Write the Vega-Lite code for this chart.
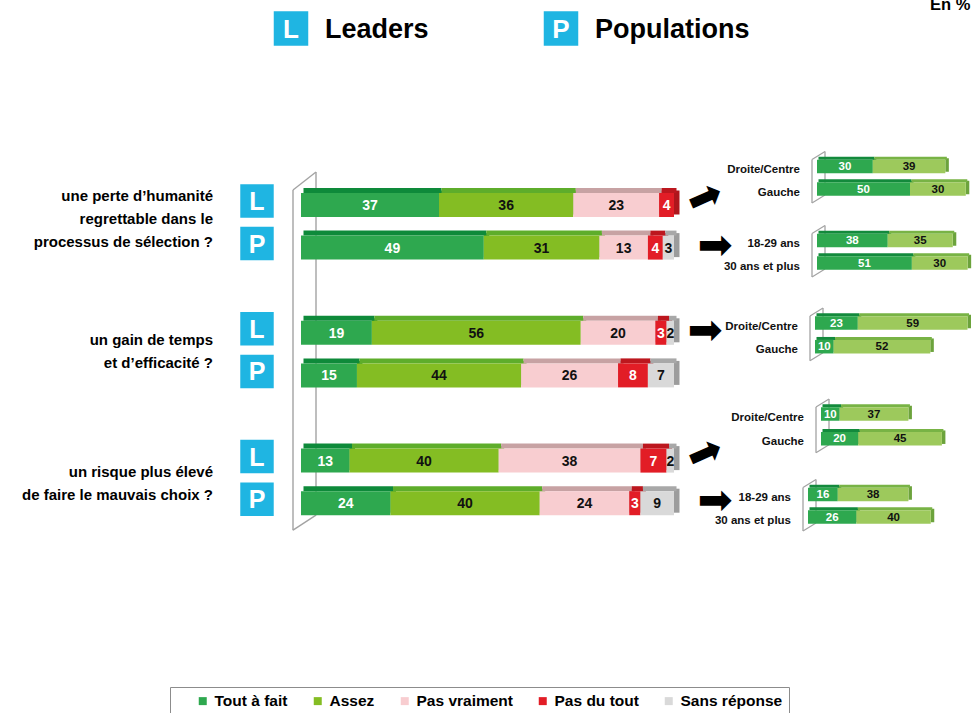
{
"$schema": "https://vega.github.io/schema/vega-lite/v6.json",
"width": 974, "height": 713, "padding": 0, "autosize": {"type": "none"},
"background": "white",
"config": {"view": {"stroke": null}, "axis": {"disable": true, "domain": false, "ticks": false, "labels": false, "grid": false, "title": null}},
"resolve": {"scale": {"x": "independent", "y": "independent", "color": "independent"}},
"layer": [
{
 "data": {"values": [{"badge": "L", "label": "Leaders"}, {"badge": "P", "label": "Populations"}]},
 "encoding": {
  "x": {"field": "label", "type": "nominal", "scale": {"type": "point", "domain": ["Leaders", "Populations"], "range": [291, 561], "padding": 0}},
  "y": {"datum": "entête", "type": "nominal", "scale": {"type": "point", "domain": ["entête"], "range": [0, 57], "padding": 0}}
 },
 "layer": [
  {"mark": {"type": "point", "shape": "square", "size": 1190, "filled": true, "color": "#1FB5E2", "opacity": 1, "strokeWidth": 0}},
  {"mark": {"type": "text", "color": "white", "fontSize": 26, "fontWeight": "bold", "font": "Liberation Sans", "baseline": "middle", "dy": 1}, "encoding": {"text": {"field": "badge"}}},
  {"mark": {"type": "text", "color": "#000", "fontSize": 27, "fontWeight": "bold", "font": "Liberation Sans", "align": "left", "baseline": "middle", "xOffset": 34, "dy": 1}, "encoding": {"text": {"field": "label"}}},
  {"data": {"values": [{"t": "En %"}]}, "mark": {"type": "text", "color": "#000", "fontSize": 16.5, "fontWeight": "bold", "font": "Liberation Sans", "align": "left", "baseline": "alphabetic", "xOffset": 369, "yOffset": -19}, "encoding": {"x": {"datum": "Populations", "type": "nominal", "scale": {"type": "point", "domain": ["Leaders", "Populations"], "range": [291, 561], "padding": 0}}, "text": {"field": "t"}}}
 ]
},
{
 "data": {"values": [
  {"q": "Q1", "texte": "une perte d’humanité\nregrettable dans le\nprocessus de sélection ?"},
  {"q": "Q2", "texte": "un gain de temps\net d’efficacité ?"},
  {"q": "Q3", "texte": "un risque plus élevé\nde faire le mauvais choix ?"}
 ]},
 "encoding": {
  "x": {"datum": 0, "type": "quantitative", "scale": {"domain": [0, 100], "range": [301, 674], "nice": false, "zero": false}},
  "y": {"field": "q", "type": "nominal", "scale": {"type": "band", "domain": ["Q1", "Q2", "Q3"], "range": [152.875, 549.625], "paddingInner": 0, "paddingOuter": 0}},
  "text": {"field": "texte"}
 },
 "layer": [
  {"transform": [{"filter": "datum.q==='Q1'"}], "mark": {"type": "text", "align": "right", "baseline": "middle", "lineBreak": "\n", "lineHeight": 23, "fontSize": 15, "fontWeight": "bold", "font": "Liberation Sans", "color": "#000", "xOffset": -88, "yOffset": -23}},
  {"transform": [{"filter": "datum.q!=='Q1'"}], "mark": {"type": "text", "align": "right", "baseline": "middle", "lineBreak": "\n", "lineHeight": 23, "fontSize": 15, "fontWeight": "bold", "font": "Liberation Sans", "color": "#000", "xOffset": -88, "yOffset": -11.5}}
 ]
},
{
 "data": {"values": [
  {"row": "Q1 Leaders", "cat": "Tout à fait", "v": 37},
  {"row": "Q1 Leaders", "cat": "Assez", "v": 36},
  {"row": "Q1 Leaders", "cat": "Pas vraiment", "v": 23},
  {"row": "Q1 Leaders", "cat": "Pas du tout", "v": 4},
  {"row": "Q1 Populations", "cat": "Tout à fait", "v": 49},
  {"row": "Q1 Populations", "cat": "Assez", "v": 31},
  {"row": "Q1 Populations", "cat": "Pas vraiment", "v": 13},
  {"row": "Q1 Populations", "cat": "Pas du tout", "v": 4},
  {"row": "Q1 Populations", "cat": "Sans réponse", "v": 3},
  {"row": "Q2 Leaders", "cat": "Tout à fait", "v": 19},
  {"row": "Q2 Leaders", "cat": "Assez", "v": 56},
  {"row": "Q2 Leaders", "cat": "Pas vraiment", "v": 20},
  {"row": "Q2 Leaders", "cat": "Pas du tout", "v": 3},
  {"row": "Q2 Leaders", "cat": "Sans réponse", "v": 2},
  {"row": "Q2 Populations", "cat": "Tout à fait", "v": 15},
  {"row": "Q2 Populations", "cat": "Assez", "v": 44},
  {"row": "Q2 Populations", "cat": "Pas vraiment", "v": 26},
  {"row": "Q2 Populations", "cat": "Pas du tout", "v": 8},
  {"row": "Q2 Populations", "cat": "Sans réponse", "v": 7},
  {"row": "Q3 Leaders", "cat": "Tout à fait", "v": 13},
  {"row": "Q3 Leaders", "cat": "Assez", "v": 40},
  {"row": "Q3 Leaders", "cat": "Pas vraiment", "v": 38},
  {"row": "Q3 Leaders", "cat": "Pas du tout", "v": 7},
  {"row": "Q3 Leaders", "cat": "Sans réponse", "v": 2},
  {"row": "Q3 Populations", "cat": "Tout à fait", "v": 24},
  {"row": "Q3 Populations", "cat": "Assez", "v": 40},
  {"row": "Q3 Populations", "cat": "Pas vraiment", "v": 24},
  {"row": "Q3 Populations", "cat": "Pas du tout", "v": 3},
  {"row": "Q3 Populations", "cat": "Sans réponse", "v": 9}
 ]},
 "transform": [{"calculate": "indexof(['Tout à fait','Assez','Pas vraiment','Pas du tout','Sans réponse'], datum.cat)", "as": "k"}],
 "layer": [
  {"data": {"values": [{}]}, "layer": [
   {"mark": {"type": "rule", "color": "#a3a3a3", "strokeWidth": 1.4, "xOffset": -8, "yOffset": -15, "y2Offset": 27},
    "encoding": {"x": {"datum": 0, "type": "quantitative", "scale": {"domain": [0, 100], "range": [301, 674], "nice": false, "zero": false}}, "y": {"datum": "Q1 Leaders", "type": "nominal", "scale": {"type": "band", "domain": ["Q1 Leaders", "Q1 Populations", "·1", "Q2 Leaders", "Q2 Populations", "·2", "Q3 Leaders", "Q3 Populations"], "range": [183.7, 524.5], "paddingInner": 0, "paddingOuter": 0}}, "y2": {"datum": "Q3 Populations"}}},
   {"mark": {"type": "rule", "color": "#a3a3a3", "strokeWidth": 1.4, "xOffset": 15, "yOffset": -33, "y2Offset": 12},
    "encoding": {"x": {"datum": 0, "type": "quantitative", "scale": {"domain": [0, 100], "range": [301, 674], "nice": false, "zero": false}}, "y": {"datum": "Q1 Leaders", "type": "nominal", "scale": {"type": "band", "domain": ["Q1 Leaders", "Q1 Populations", "·1", "Q2 Leaders", "Q2 Populations", "·2", "Q3 Leaders", "Q3 Populations"], "range": [183.7, 524.5], "paddingInner": 0, "paddingOuter": 0}}, "y2": {"datum": "Q3 Populations"}}},
   {"mark": {"type": "rule", "color": "#a3a3a3", "strokeWidth": 1.4, "xOffset": -8, "x2Offset": 15, "yOffset": -15, "y2Offset": -33},
    "encoding": {"x": {"datum": 0, "type": "quantitative", "scale": {"domain": [0, 100], "range": [301, 674], "nice": false, "zero": false}}, "x2": {"datum": 0}, "y": {"datum": "Q1 Leaders", "type": "nominal", "scale": {"type": "band", "domain": ["Q1 Leaders", "Q1 Populations", "·1", "Q2 Leaders", "Q2 Populations", "·2", "Q3 Leaders", "Q3 Populations"], "range": [183.7, 524.5], "paddingInner": 0, "paddingOuter": 0}}, "y2": {"datum": "Q1 Leaders"}}},
   {"mark": {"type": "rule", "color": "#a3a3a3", "strokeWidth": 1.4, "xOffset": -8, "x2Offset": 15, "yOffset": 27, "y2Offset": 12},
    "encoding": {"x": {"datum": 0, "type": "quantitative", "scale": {"domain": [0, 100], "range": [301, 674], "nice": false, "zero": false}}, "x2": {"datum": 0}, "y": {"datum": "Q3 Populations", "type": "nominal", "scale": {"type": "band", "domain": ["Q1 Leaders", "Q1 Populations", "·1", "Q2 Leaders", "Q2 Populations", "·2", "Q3 Leaders", "Q3 Populations"], "range": [183.7, 524.5], "paddingInner": 0, "paddingOuter": 0}}, "y2": {"datum": "Q3 Populations"}}}
  ]},
  {"mark": {"type": "tick", "thickness": 5.5, "size": 24, "xOffset": 2.75, "yOffset": -2.5, "opacity": 1},
   "encoding": {
    "x": {"field": "v", "type": "quantitative", "stack": "zero", "scale": {"domain": [0, 100], "range": [301, 674], "nice": false, "zero": false}},
    "y": {"field": "row", "type": "nominal", "scale": {"type": "band", "domain": ["Q1 Leaders", "Q1 Populations", "·1", "Q2 Leaders", "Q2 Populations", "·2", "Q3 Leaders", "Q3 Populations"], "range": [183.7, 524.5], "paddingInner": 0, "paddingOuter": 0}},
    "order": {"field": "k"}, "detail": {"field": "cat"},
    "color": {"condition": [{"test": "datum.cat==='Tout à fait'", "value": "#0E8A3A"}, {"test": "datum.cat==='Assez'", "value": "#5EAD2B"}, {"test": "datum.cat==='Pas vraiment'", "value": "#C7A2A3"}, {"test": "datum.cat==='Pas du tout'", "value": "#AE161C"}], "value": "#9C9C9C"}
   }},
  {"mark": {"type": "bar", "height": 5, "xOffset": 2.5, "x2Offset": 2.5, "yOffset": -14.5, "y2Offset": -14.5, "opacity": 1},
   "encoding": {
    "x": {"field": "v", "type": "quantitative", "stack": "zero", "scale": {"domain": [0, 100], "range": [301, 674], "nice": false, "zero": false}},
    "y": {"field": "row", "type": "nominal", "scale": {"type": "band", "domain": ["Q1 Leaders", "Q1 Populations", "·1", "Q2 Leaders", "Q2 Populations", "·2", "Q3 Leaders", "Q3 Populations"], "range": [183.7, 524.5], "paddingInner": 0, "paddingOuter": 0}},
    "order": {"field": "k"}, "detail": {"field": "cat"},
    "color": {"condition": [{"test": "datum.cat==='Tout à fait'", "value": "#0E8A3A"}, {"test": "datum.cat==='Assez'", "value": "#5EAD2B"}, {"test": "datum.cat==='Pas vraiment'", "value": "#C7A2A3"}, {"test": "datum.cat==='Pas du tout'", "value": "#BC171E"}], "value": "#A8A8A8"}
   }},
  {"mark": {"type": "bar", "height": 24, "opacity": 1},
   "encoding": {
    "x": {"field": "v", "type": "quantitative", "stack": "zero", "scale": {"domain": [0, 100], "range": [301, 674], "nice": false, "zero": false}},
    "y": {"field": "row", "type": "nominal", "scale": {"type": "band", "domain": ["Q1 Leaders", "Q1 Populations", "·1", "Q2 Leaders", "Q2 Populations", "·2", "Q3 Leaders", "Q3 Populations"], "range": [183.7, 524.5], "paddingInner": 0, "paddingOuter": 0}},
    "order": {"field": "k"},
    "color": {"field": "cat", "type": "nominal",
     "scale": {"domain": ["Tout à fait", "Assez", "Pas vraiment", "Pas du tout", "Sans réponse"], "range": ["#2EA84F", "#84BD23", "#F8CDD0", "#E21D26", "#D9D9D9"]},
     "legend": {"title": null, "orient": "none", "legendX": 170, "legendY": 687, "direction": "horizontal", "columns": 5, "symbolType": "square", "symbolSize": 64, "symbolStrokeWidth": 0, "symbolOffset": 19, "columnPadding": 3, "labelOffset": 4, "labelFontSize": 15.5, "labelFont": "Liberation Sans", "labelFontWeight": "bold", "labelColor": "#000", "strokeColor": "#8c8c8c", "padding": 6}}
   }},
  {"mark": {"type": "text", "fontSize": 14, "fontWeight": "bold", "font": "Liberation Sans", "baseline": "middle", "dy": 1},
   "encoding": {
    "x": {"field": "v", "type": "quantitative", "stack": "zero", "bandPosition": 0.5, "scale": {"domain": [0, 100], "range": [301, 674], "nice": false, "zero": false}},
    "y": {"field": "row", "type": "nominal", "scale": {"type": "band", "domain": ["Q1 Leaders", "Q1 Populations", "·1", "Q2 Leaders", "Q2 Populations", "·2", "Q3 Leaders", "Q3 Populations"], "range": [183.7, 524.5], "paddingInner": 0, "paddingOuter": 0}},
    "order": {"field": "k"}, "detail": {"field": "cat"},
    "text": {"field": "v"},
    "color": {"condition": {"test": "datum.cat==='Tout à fait' || datum.cat==='Pas du tout'", "value": "#ffffff"}, "value": "#111111"}
   }},
  {"data": {"values": [{"row": "Q1 Leaders", "b": "L"}, {"row": "Q1 Populations", "b": "P"}, {"row": "Q2 Leaders", "b": "L"}, {"row": "Q2 Populations", "b": "P"}, {"row": "Q3 Leaders", "b": "L"}, {"row": "Q3 Populations", "b": "P"}]},
   "encoding": {
    "x": {"datum": 0, "type": "quantitative", "scale": {"domain": [0, 100], "range": [301, 674], "nice": false, "zero": false}},
    "y": {"field": "row", "type": "nominal", "scale": {"type": "band", "domain": ["Q1 Leaders", "Q1 Populations", "·1", "Q2 Leaders", "Q2 Populations", "·2", "Q3 Leaders", "Q3 Populations"], "range": [183.7, 524.5], "paddingInner": 0, "paddingOuter": 0}}
   },
   "layer": [
    {"mark": {"type": "point", "shape": "square", "size": 1120, "filled": true, "color": "#1FB5E2", "opacity": 1, "strokeWidth": 0, "xOffset": -44, "yOffset": -4}},
    {"mark": {"type": "text", "fontSize": 25, "fontWeight": "bold", "font": "Liberation Sans", "color": "white", "xOffset": -44, "yOffset": -3, "baseline": "middle"}, "encoding": {"text": {"field": "b"}}}
   ]},
  {"data": {"values": [{"row": "Q1 Leaders"}, {"row": "Q3 Leaders"}]},
   "mark": {"type": "text", "text": "➡", "font": "DejaVu Sans", "fontSize": 42, "angle": -24, "xOffset": 31, "yOffset": -7, "baseline": "middle", "align": "center", "color": "#000"},
   "encoding": {
    "x": {"datum": 100, "type": "quantitative", "scale": {"domain": [0, 100], "range": [301, 674], "nice": false, "zero": false}},
    "y": {"field": "row", "type": "nominal", "scale": {"type": "band", "domain": ["Q1 Leaders", "Q1 Populations", "·1", "Q2 Leaders", "Q2 Populations", "·2", "Q3 Leaders", "Q3 Populations"], "range": [183.7, 524.5], "paddingInner": 0, "paddingOuter": 0}}
   }},
  {"data": {"values": [{"row": "Q2 Leaders"}]},
   "mark": {"type": "text", "text": "➡", "font": "DejaVu Sans", "fontSize": 42, "xOffset": 31, "yOffset": -2, "baseline": "middle", "align": "center", "color": "#000"},
   "encoding": {
    "x": {"datum": 100, "type": "quantitative", "scale": {"domain": [0, 100], "range": [301, 674], "nice": false, "zero": false}},
    "y": {"field": "row", "type": "nominal", "scale": {"type": "band", "domain": ["Q1 Leaders", "Q1 Populations", "·1", "Q2 Leaders", "Q2 Populations", "·2", "Q3 Leaders", "Q3 Populations"], "range": [183.7, 524.5], "paddingInner": 0, "paddingOuter": 0}}
   }},
  {"data": {"values": [{"row": "Q1 Populations"}, {"row": "Q3 Populations"}]},
   "mark": {"type": "text", "text": "➡", "font": "DejaVu Sans", "fontSize": 42, "xOffset": 41, "yOffset": -2, "baseline": "middle", "align": "center", "color": "#000"},
   "encoding": {
    "x": {"datum": 100, "type": "quantitative", "scale": {"domain": [0, 100], "range": [301, 674], "nice": false, "zero": false}},
    "y": {"field": "row", "type": "nominal", "scale": {"type": "band", "domain": ["Q1 Leaders", "Q1 Populations", "·1", "Q2 Leaders", "Q2 Populations", "·2", "Q3 Leaders", "Q3 Populations"], "range": [183.7, 524.5], "paddingInner": 0, "paddingOuter": 0}}
   }}
 ]
},
{
 "data": {"values": [
  {"sub": "Droite/Centre", "cat": "Tout à fait", "v": 30}, {"sub": "Droite/Centre", "cat": "Assez", "v": 39},
  {"sub": "Gauche", "cat": "Tout à fait", "v": 50}, {"sub": "Gauche", "cat": "Assez", "v": 30}
 ]},
 "layer": [
  {"data": {"values": [{}]}, "layer": [
   {"mark": {"type": "rule", "color": "#a3a3a3", "strokeWidth": 1.3, "xOffset": -5, "yOffset": -7, "y2Offset": 14}, "encoding": {"x": {"datum": 0, "type": "quantitative", "scale": {"domain": [0, 100], "range": [817, 1003], "nice": false, "zero": false}}, "y": {"datum": "Droite/Centre", "type": "nominal", "scale": {"type": "band", "domain": ["Droite/Centre", "Gauche"], "range": [155.25, 200.25], "paddingInner": 0, "paddingOuter": 0}}, "y2": {"datum": "Gauche"}}},
   {"mark": {"type": "rule", "color": "#a3a3a3", "strokeWidth": 1.3, "xOffset": 8, "yOffset": -15, "y2Offset": 6}, "encoding": {"x": {"datum": 0, "type": "quantitative", "scale": {"domain": [0, 100], "range": [817, 1003], "nice": false, "zero": false}}, "y": {"datum": "Droite/Centre", "type": "nominal", "scale": {"type": "band", "domain": ["Droite/Centre", "Gauche"], "range": [155.25, 200.25], "paddingInner": 0, "paddingOuter": 0}}, "y2": {"datum": "Gauche"}}},
   {"mark": {"type": "rule", "color": "#a3a3a3", "strokeWidth": 1.3, "xOffset": -5, "x2Offset": 8, "yOffset": -7, "y2Offset": -15}, "encoding": {"x": {"datum": 0, "type": "quantitative", "scale": {"domain": [0, 100], "range": [817, 1003], "nice": false, "zero": false}}, "x2": {"datum": 0}, "y": {"datum": "Droite/Centre", "type": "nominal", "scale": {"type": "band", "domain": ["Droite/Centre", "Gauche"], "range": [155.25, 200.25], "paddingInner": 0, "paddingOuter": 0}}, "y2": {"datum": "Droite/Centre"}}},
   {"mark": {"type": "rule", "color": "#a3a3a3", "strokeWidth": 1.3, "xOffset": -5, "x2Offset": 8, "yOffset": 14, "y2Offset": 6}, "encoding": {"x": {"datum": 0, "type": "quantitative", "scale": {"domain": [0, 100], "range": [817, 1003], "nice": false, "zero": false}}, "x2": {"datum": 0}, "y": {"datum": "Gauche", "type": "nominal", "scale": {"type": "band", "domain": ["Droite/Centre", "Gauche"], "range": [155.25, 200.25], "paddingInner": 0, "paddingOuter": 0}}, "y2": {"datum": "Gauche"}}}
  ]},
  {"mark": {"type": "tick", "thickness": 3.5, "size": 13.5, "xOffset": 1.75, "yOffset": -1.5, "opacity": 1}, "encoding": {"x": {"field": "v", "type": "quantitative", "stack": "zero", "scale": {"domain": [0, 100], "range": [817, 1003], "nice": false, "zero": false}}, "y": {"field": "sub", "type": "nominal", "scale": {"type": "band", "domain": ["Droite/Centre", "Gauche"], "range": [155.25, 200.25], "paddingInner": 0, "paddingOuter": 0}}, "order": {"field": "cat", "sort": "descending"}, "detail": {"field": "cat"}, "color": {"condition": {"test": "datum.cat==='Tout à fait'", "value": "#138A3C"}, "value": "#6CA33C"}}},
  {"mark": {"type": "bar", "height": 3, "xOffset": 1.5, "x2Offset": 1.5, "yOffset": -8.25, "y2Offset": -8.25, "opacity": 1}, "encoding": {"x": {"field": "v", "type": "quantitative", "stack": "zero", "scale": {"domain": [0, 100], "range": [817, 1003], "nice": false, "zero": false}}, "y": {"field": "sub", "type": "nominal", "scale": {"type": "band", "domain": ["Droite/Centre", "Gauche"], "range": [155.25, 200.25], "paddingInner": 0, "paddingOuter": 0}}, "order": {"field": "cat", "sort": "descending"}, "detail": {"field": "cat"}, "color": {"condition": {"test": "datum.cat==='Tout à fait'", "value": "#138A3C"}, "value": "#78B345"}}},
  {"mark": {"type": "bar", "height": 13.5, "opacity": 1}, "encoding": {"x": {"field": "v", "type": "quantitative", "stack": "zero", "scale": {"domain": [0, 100], "range": [817, 1003], "nice": false, "zero": false}}, "y": {"field": "sub", "type": "nominal", "scale": {"type": "band", "domain": ["Droite/Centre", "Gauche"], "range": [155.25, 200.25], "paddingInner": 0, "paddingOuter": 0}}, "order": {"field": "cat", "sort": "descending"}, "detail": {"field": "cat"}, "color": {"condition": {"test": "datum.cat==='Tout à fait'", "value": "#2EA84F"}, "value": "#9DC95C"}}},
  {"mark": {"type": "text", "fontSize": 11.5, "fontWeight": "bold", "font": "Liberation Sans", "baseline": "middle", "dy": 0.5}, "encoding": {"x": {"field": "v", "type": "quantitative", "stack": "zero", "bandPosition": 0.5, "scale": {"domain": [0, 100], "range": [817, 1003], "nice": false, "zero": false}}, "y": {"field": "sub", "type": "nominal", "scale": {"type": "band", "domain": ["Droite/Centre", "Gauche"], "range": [155.25, 200.25], "paddingInner": 0, "paddingOuter": 0}}, "order": {"field": "cat", "sort": "descending"}, "detail": {"field": "cat"}, "text": {"field": "v"}, "color": {"condition": {"test": "datum.cat==='Tout à fait'", "value": "#ffffff"}, "value": "#111111"}}},
  {"transform": [{"filter": "datum.cat==='Tout à fait'"}], "mark": {"type": "text", "fontSize": 11.5, "fontWeight": "bold", "font": "Liberation Sans", "align": "right", "baseline": "middle", "xOffset": -17, "yOffset": 3.5, "color": "#111"}, "encoding": {"x": {"datum": 0, "type": "quantitative", "scale": {"domain": [0, 100], "range": [817, 1003], "nice": false, "zero": false}}, "y": {"field": "sub", "type": "nominal", "scale": {"type": "band", "domain": ["Droite/Centre", "Gauche"], "range": [155.25, 200.25], "paddingInner": 0, "paddingOuter": 0}}, "text": {"field": "sub"}}}
 ]
},
{
 "data": {"values": [
  {"sub": "18-29 ans", "cat": "Tout à fait", "v": 38}, {"sub": "18-29 ans", "cat": "Assez", "v": 35},
  {"sub": "30 ans et plus", "cat": "Tout à fait", "v": 51}, {"sub": "30 ans et plus", "cat": "Assez", "v": 30}
 ]},
 "layer": [
  {"data": {"values": [{}]}, "layer": [
   {"mark": {"type": "rule", "color": "#a3a3a3", "strokeWidth": 1.3, "xOffset": -5, "yOffset": -7, "y2Offset": 14}, "encoding": {"x": {"datum": 0, "type": "quantitative", "scale": {"domain": [0, 100], "range": [817, 1003], "nice": false, "zero": false}}, "y": {"datum": "18-29 ans", "type": "nominal", "scale": {"type": "band", "domain": ["18-29 ans", "30 ans et plus"], "range": [229.25, 274.25], "paddingInner": 0, "paddingOuter": 0}}, "y2": {"datum": "30 ans et plus"}}},
   {"mark": {"type": "rule", "color": "#a3a3a3", "strokeWidth": 1.3, "xOffset": 8, "yOffset": -15, "y2Offset": 6}, "encoding": {"x": {"datum": 0, "type": "quantitative", "scale": {"domain": [0, 100], "range": [817, 1003], "nice": false, "zero": false}}, "y": {"datum": "18-29 ans", "type": "nominal", "scale": {"type": "band", "domain": ["18-29 ans", "30 ans et plus"], "range": [229.25, 274.25], "paddingInner": 0, "paddingOuter": 0}}, "y2": {"datum": "30 ans et plus"}}},
   {"mark": {"type": "rule", "color": "#a3a3a3", "strokeWidth": 1.3, "xOffset": -5, "x2Offset": 8, "yOffset": -7, "y2Offset": -15}, "encoding": {"x": {"datum": 0, "type": "quantitative", "scale": {"domain": [0, 100], "range": [817, 1003], "nice": false, "zero": false}}, "x2": {"datum": 0}, "y": {"datum": "18-29 ans", "type": "nominal", "scale": {"type": "band", "domain": ["18-29 ans", "30 ans et plus"], "range": [229.25, 274.25], "paddingInner": 0, "paddingOuter": 0}}, "y2": {"datum": "18-29 ans"}}},
   {"mark": {"type": "rule", "color": "#a3a3a3", "strokeWidth": 1.3, "xOffset": -5, "x2Offset": 8, "yOffset": 14, "y2Offset": 6}, "encoding": {"x": {"datum": 0, "type": "quantitative", "scale": {"domain": [0, 100], "range": [817, 1003], "nice": false, "zero": false}}, "x2": {"datum": 0}, "y": {"datum": "30 ans et plus", "type": "nominal", "scale": {"type": "band", "domain": ["18-29 ans", "30 ans et plus"], "range": [229.25, 274.25], "paddingInner": 0, "paddingOuter": 0}}, "y2": {"datum": "30 ans et plus"}}}
  ]},
  {"mark": {"type": "tick", "thickness": 3.5, "size": 13.5, "xOffset": 1.75, "yOffset": -1.5, "opacity": 1}, "encoding": {"x": {"field": "v", "type": "quantitative", "stack": "zero", "scale": {"domain": [0, 100], "range": [817, 1003], "nice": false, "zero": false}}, "y": {"field": "sub", "type": "nominal", "scale": {"type": "band", "domain": ["18-29 ans", "30 ans et plus"], "range": [229.25, 274.25], "paddingInner": 0, "paddingOuter": 0}}, "order": {"field": "cat", "sort": "descending"}, "detail": {"field": "cat"}, "color": {"condition": {"test": "datum.cat==='Tout à fait'", "value": "#138A3C"}, "value": "#6CA33C"}}},
  {"mark": {"type": "bar", "height": 3, "xOffset": 1.5, "x2Offset": 1.5, "yOffset": -8.25, "y2Offset": -8.25, "opacity": 1}, "encoding": {"x": {"field": "v", "type": "quantitative", "stack": "zero", "scale": {"domain": [0, 100], "range": [817, 1003], "nice": false, "zero": false}}, "y": {"field": "sub", "type": "nominal", "scale": {"type": "band", "domain": ["18-29 ans", "30 ans et plus"], "range": [229.25, 274.25], "paddingInner": 0, "paddingOuter": 0}}, "order": {"field": "cat", "sort": "descending"}, "detail": {"field": "cat"}, "color": {"condition": {"test": "datum.cat==='Tout à fait'", "value": "#138A3C"}, "value": "#78B345"}}},
  {"mark": {"type": "bar", "height": 13.5, "opacity": 1}, "encoding": {"x": {"field": "v", "type": "quantitative", "stack": "zero", "scale": {"domain": [0, 100], "range": [817, 1003], "nice": false, "zero": false}}, "y": {"field": "sub", "type": "nominal", "scale": {"type": "band", "domain": ["18-29 ans", "30 ans et plus"], "range": [229.25, 274.25], "paddingInner": 0, "paddingOuter": 0}}, "order": {"field": "cat", "sort": "descending"}, "detail": {"field": "cat"}, "color": {"condition": {"test": "datum.cat==='Tout à fait'", "value": "#2EA84F"}, "value": "#9DC95C"}}},
  {"mark": {"type": "text", "fontSize": 11.5, "fontWeight": "bold", "font": "Liberation Sans", "baseline": "middle", "dy": 0.5}, "encoding": {"x": {"field": "v", "type": "quantitative", "stack": "zero", "bandPosition": 0.5, "scale": {"domain": [0, 100], "range": [817, 1003], "nice": false, "zero": false}}, "y": {"field": "sub", "type": "nominal", "scale": {"type": "band", "domain": ["18-29 ans", "30 ans et plus"], "range": [229.25, 274.25], "paddingInner": 0, "paddingOuter": 0}}, "order": {"field": "cat", "sort": "descending"}, "detail": {"field": "cat"}, "text": {"field": "v"}, "color": {"condition": {"test": "datum.cat==='Tout à fait'", "value": "#ffffff"}, "value": "#111111"}}},
  {"transform": [{"filter": "datum.cat==='Tout à fait'"}], "mark": {"type": "text", "fontSize": 11.5, "fontWeight": "bold", "font": "Liberation Sans", "align": "right", "baseline": "middle", "xOffset": -17, "yOffset": 3.5, "color": "#111"}, "encoding": {"x": {"datum": 0, "type": "quantitative", "scale": {"domain": [0, 100], "range": [817, 1003], "nice": false, "zero": false}}, "y": {"field": "sub", "type": "nominal", "scale": {"type": "band", "domain": ["18-29 ans", "30 ans et plus"], "range": [229.25, 274.25], "paddingInner": 0, "paddingOuter": 0}}, "text": {"field": "sub"}}}
 ]
},
{
 "data": {"values": [
  {"sub": "Droite/Centre", "cat": "Tout à fait", "v": 23}, {"sub": "Droite/Centre", "cat": "Assez", "v": 59},
  {"sub": "Gauche", "cat": "Tout à fait", "v": 10}, {"sub": "Gauche", "cat": "Assez", "v": 52}
 ]},
 "layer": [
  {"data": {"values": [{}]}, "layer": [
   {"mark": {"type": "rule", "color": "#a3a3a3", "strokeWidth": 1.3, "xOffset": -5, "yOffset": -7, "y2Offset": 14}, "encoding": {"x": {"datum": 0, "type": "quantitative", "scale": {"domain": [0, 100], "range": [815, 1001], "nice": false, "zero": false}}, "y": {"datum": "Droite/Centre", "type": "nominal", "scale": {"type": "band", "domain": ["Droite/Centre", "Gauche"], "range": [311.15, 358.55], "paddingInner": 0, "paddingOuter": 0}}, "y2": {"datum": "Gauche"}}},
   {"mark": {"type": "rule", "color": "#a3a3a3", "strokeWidth": 1.3, "xOffset": 8, "yOffset": -15, "y2Offset": 6}, "encoding": {"x": {"datum": 0, "type": "quantitative", "scale": {"domain": [0, 100], "range": [815, 1001], "nice": false, "zero": false}}, "y": {"datum": "Droite/Centre", "type": "nominal", "scale": {"type": "band", "domain": ["Droite/Centre", "Gauche"], "range": [311.15, 358.55], "paddingInner": 0, "paddingOuter": 0}}, "y2": {"datum": "Gauche"}}},
   {"mark": {"type": "rule", "color": "#a3a3a3", "strokeWidth": 1.3, "xOffset": -5, "x2Offset": 8, "yOffset": -7, "y2Offset": -15}, "encoding": {"x": {"datum": 0, "type": "quantitative", "scale": {"domain": [0, 100], "range": [815, 1001], "nice": false, "zero": false}}, "x2": {"datum": 0}, "y": {"datum": "Droite/Centre", "type": "nominal", "scale": {"type": "band", "domain": ["Droite/Centre", "Gauche"], "range": [311.15, 358.55], "paddingInner": 0, "paddingOuter": 0}}, "y2": {"datum": "Droite/Centre"}}},
   {"mark": {"type": "rule", "color": "#a3a3a3", "strokeWidth": 1.3, "xOffset": -5, "x2Offset": 8, "yOffset": 14, "y2Offset": 6}, "encoding": {"x": {"datum": 0, "type": "quantitative", "scale": {"domain": [0, 100], "range": [815, 1001], "nice": false, "zero": false}}, "x2": {"datum": 0}, "y": {"datum": "Gauche", "type": "nominal", "scale": {"type": "band", "domain": ["Droite/Centre", "Gauche"], "range": [311.15, 358.55], "paddingInner": 0, "paddingOuter": 0}}, "y2": {"datum": "Gauche"}}}
  ]},
  {"mark": {"type": "tick", "thickness": 3.5, "size": 13.5, "xOffset": 1.75, "yOffset": -1.5, "opacity": 1}, "encoding": {"x": {"field": "v", "type": "quantitative", "stack": "zero", "scale": {"domain": [0, 100], "range": [815, 1001], "nice": false, "zero": false}}, "y": {"field": "sub", "type": "nominal", "scale": {"type": "band", "domain": ["Droite/Centre", "Gauche"], "range": [311.15, 358.55], "paddingInner": 0, "paddingOuter": 0}}, "order": {"field": "cat", "sort": "descending"}, "detail": {"field": "cat"}, "color": {"condition": {"test": "datum.cat==='Tout à fait'", "value": "#138A3C"}, "value": "#6CA33C"}}},
  {"mark": {"type": "bar", "height": 3, "xOffset": 1.5, "x2Offset": 1.5, "yOffset": -8.25, "y2Offset": -8.25, "opacity": 1}, "encoding": {"x": {"field": "v", "type": "quantitative", "stack": "zero", "scale": {"domain": [0, 100], "range": [815, 1001], "nice": false, "zero": false}}, "y": {"field": "sub", "type": "nominal", "scale": {"type": "band", "domain": ["Droite/Centre", "Gauche"], "range": [311.15, 358.55], "paddingInner": 0, "paddingOuter": 0}}, "order": {"field": "cat", "sort": "descending"}, "detail": {"field": "cat"}, "color": {"condition": {"test": "datum.cat==='Tout à fait'", "value": "#138A3C"}, "value": "#78B345"}}},
  {"mark": {"type": "bar", "height": 13.5, "opacity": 1}, "encoding": {"x": {"field": "v", "type": "quantitative", "stack": "zero", "scale": {"domain": [0, 100], "range": [815, 1001], "nice": false, "zero": false}}, "y": {"field": "sub", "type": "nominal", "scale": {"type": "band", "domain": ["Droite/Centre", "Gauche"], "range": [311.15, 358.55], "paddingInner": 0, "paddingOuter": 0}}, "order": {"field": "cat", "sort": "descending"}, "detail": {"field": "cat"}, "color": {"condition": {"test": "datum.cat==='Tout à fait'", "value": "#2EA84F"}, "value": "#9DC95C"}}},
  {"mark": {"type": "text", "fontSize": 11.5, "fontWeight": "bold", "font": "Liberation Sans", "baseline": "middle", "dy": 0.5}, "encoding": {"x": {"field": "v", "type": "quantitative", "stack": "zero", "bandPosition": 0.5, "scale": {"domain": [0, 100], "range": [815, 1001], "nice": false, "zero": false}}, "y": {"field": "sub", "type": "nominal", "scale": {"type": "band", "domain": ["Droite/Centre", "Gauche"], "range": [311.15, 358.55], "paddingInner": 0, "paddingOuter": 0}}, "order": {"field": "cat", "sort": "descending"}, "detail": {"field": "cat"}, "text": {"field": "v"}, "color": {"condition": {"test": "datum.cat==='Tout à fait'", "value": "#ffffff"}, "value": "#111111"}}},
  {"transform": [{"filter": "datum.cat==='Tout à fait'"}], "mark": {"type": "text", "fontSize": 11.5, "fontWeight": "bold", "font": "Liberation Sans", "align": "right", "baseline": "middle", "xOffset": -17, "yOffset": 3.5, "color": "#111"}, "encoding": {"x": {"datum": 0, "type": "quantitative", "scale": {"domain": [0, 100], "range": [815, 1001], "nice": false, "zero": false}}, "y": {"field": "sub", "type": "nominal", "scale": {"type": "band", "domain": ["Droite/Centre", "Gauche"], "range": [311.15, 358.55], "paddingInner": 0, "paddingOuter": 0}}, "text": {"field": "sub"}}}
 ]
},
{
 "data": {"values": [
  {"sub": "Droite/Centre", "cat": "Tout à fait", "v": 10}, {"sub": "Droite/Centre", "cat": "Assez", "v": 37},
  {"sub": "Gauche", "cat": "Tout à fait", "v": 20}, {"sub": "Gauche", "cat": "Assez", "v": 45}
 ]},
 "layer": [
  {"data": {"values": [{}]}, "layer": [
   {"mark": {"type": "rule", "color": "#a3a3a3", "strokeWidth": 1.3, "xOffset": -5, "yOffset": -7, "y2Offset": 14}, "encoding": {"x": {"datum": 0, "type": "quantitative", "scale": {"domain": [0, 100], "range": [821, 1007], "nice": false, "zero": false}}, "y": {"datum": "Droite/Centre", "type": "nominal", "scale": {"type": "band", "domain": ["Droite/Centre", "Gauche"], "range": [401.65, 451.05], "paddingInner": 0, "paddingOuter": 0}}, "y2": {"datum": "Gauche"}}},
   {"mark": {"type": "rule", "color": "#a3a3a3", "strokeWidth": 1.3, "xOffset": 8, "yOffset": -15, "y2Offset": 6}, "encoding": {"x": {"datum": 0, "type": "quantitative", "scale": {"domain": [0, 100], "range": [821, 1007], "nice": false, "zero": false}}, "y": {"datum": "Droite/Centre", "type": "nominal", "scale": {"type": "band", "domain": ["Droite/Centre", "Gauche"], "range": [401.65, 451.05], "paddingInner": 0, "paddingOuter": 0}}, "y2": {"datum": "Gauche"}}},
   {"mark": {"type": "rule", "color": "#a3a3a3", "strokeWidth": 1.3, "xOffset": -5, "x2Offset": 8, "yOffset": -7, "y2Offset": -15}, "encoding": {"x": {"datum": 0, "type": "quantitative", "scale": {"domain": [0, 100], "range": [821, 1007], "nice": false, "zero": false}}, "x2": {"datum": 0}, "y": {"datum": "Droite/Centre", "type": "nominal", "scale": {"type": "band", "domain": ["Droite/Centre", "Gauche"], "range": [401.65, 451.05], "paddingInner": 0, "paddingOuter": 0}}, "y2": {"datum": "Droite/Centre"}}},
   {"mark": {"type": "rule", "color": "#a3a3a3", "strokeWidth": 1.3, "xOffset": -5, "x2Offset": 8, "yOffset": 14, "y2Offset": 6}, "encoding": {"x": {"datum": 0, "type": "quantitative", "scale": {"domain": [0, 100], "range": [821, 1007], "nice": false, "zero": false}}, "x2": {"datum": 0}, "y": {"datum": "Gauche", "type": "nominal", "scale": {"type": "band", "domain": ["Droite/Centre", "Gauche"], "range": [401.65, 451.05], "paddingInner": 0, "paddingOuter": 0}}, "y2": {"datum": "Gauche"}}}
  ]},
  {"mark": {"type": "tick", "thickness": 3.5, "size": 13.5, "xOffset": 1.75, "yOffset": -1.5, "opacity": 1}, "encoding": {"x": {"field": "v", "type": "quantitative", "stack": "zero", "scale": {"domain": [0, 100], "range": [821, 1007], "nice": false, "zero": false}}, "y": {"field": "sub", "type": "nominal", "scale": {"type": "band", "domain": ["Droite/Centre", "Gauche"], "range": [401.65, 451.05], "paddingInner": 0, "paddingOuter": 0}}, "order": {"field": "cat", "sort": "descending"}, "detail": {"field": "cat"}, "color": {"condition": {"test": "datum.cat==='Tout à fait'", "value": "#138A3C"}, "value": "#6CA33C"}}},
  {"mark": {"type": "bar", "height": 3, "xOffset": 1.5, "x2Offset": 1.5, "yOffset": -8.25, "y2Offset": -8.25, "opacity": 1}, "encoding": {"x": {"field": "v", "type": "quantitative", "stack": "zero", "scale": {"domain": [0, 100], "range": [821, 1007], "nice": false, "zero": false}}, "y": {"field": "sub", "type": "nominal", "scale": {"type": "band", "domain": ["Droite/Centre", "Gauche"], "range": [401.65, 451.05], "paddingInner": 0, "paddingOuter": 0}}, "order": {"field": "cat", "sort": "descending"}, "detail": {"field": "cat"}, "color": {"condition": {"test": "datum.cat==='Tout à fait'", "value": "#138A3C"}, "value": "#78B345"}}},
  {"mark": {"type": "bar", "height": 13.5, "opacity": 1}, "encoding": {"x": {"field": "v", "type": "quantitative", "stack": "zero", "scale": {"domain": [0, 100], "range": [821, 1007], "nice": false, "zero": false}}, "y": {"field": "sub", "type": "nominal", "scale": {"type": "band", "domain": ["Droite/Centre", "Gauche"], "range": [401.65, 451.05], "paddingInner": 0, "paddingOuter": 0}}, "order": {"field": "cat", "sort": "descending"}, "detail": {"field": "cat"}, "color": {"condition": {"test": "datum.cat==='Tout à fait'", "value": "#2EA84F"}, "value": "#9DC95C"}}},
  {"mark": {"type": "text", "fontSize": 11.5, "fontWeight": "bold", "font": "Liberation Sans", "baseline": "middle", "dy": 0.5}, "encoding": {"x": {"field": "v", "type": "quantitative", "stack": "zero", "bandPosition": 0.5, "scale": {"domain": [0, 100], "range": [821, 1007], "nice": false, "zero": false}}, "y": {"field": "sub", "type": "nominal", "scale": {"type": "band", "domain": ["Droite/Centre", "Gauche"], "range": [401.65, 451.05], "paddingInner": 0, "paddingOuter": 0}}, "order": {"field": "cat", "sort": "descending"}, "detail": {"field": "cat"}, "text": {"field": "v"}, "color": {"condition": {"test": "datum.cat==='Tout à fait'", "value": "#ffffff"}, "value": "#111111"}}},
  {"transform": [{"filter": "datum.cat==='Tout à fait'"}], "mark": {"type": "text", "fontSize": 11.5, "fontWeight": "bold", "font": "Liberation Sans", "align": "right", "baseline": "middle", "xOffset": -17, "yOffset": 3.5, "color": "#111"}, "encoding": {"x": {"datum": 0, "type": "quantitative", "scale": {"domain": [0, 100], "range": [821, 1007], "nice": false, "zero": false}}, "y": {"field": "sub", "type": "nominal", "scale": {"type": "band", "domain": ["Droite/Centre", "Gauche"], "range": [401.65, 451.05], "paddingInner": 0, "paddingOuter": 0}}, "text": {"field": "sub"}}}
 ]
},
{
 "data": {"values": [
  {"sub": "18-29 ans", "cat": "Tout à fait", "v": 16}, {"sub": "18-29 ans", "cat": "Assez", "v": 38},
  {"sub": "30 ans et plus", "cat": "Tout à fait", "v": 26}, {"sub": "30 ans et plus", "cat": "Assez", "v": 40}
 ]},
 "layer": [
  {"data": {"values": [{}]}, "layer": [
   {"mark": {"type": "rule", "color": "#a3a3a3", "strokeWidth": 1.3, "xOffset": -5, "yOffset": -7, "y2Offset": 14}, "encoding": {"x": {"datum": 0, "type": "quantitative", "scale": {"domain": [0, 100], "range": [808, 994], "nice": false, "zero": false}}, "y": {"datum": "18-29 ans", "type": "nominal", "scale": {"type": "band", "domain": ["18-29 ans", "30 ans et plus"], "range": [483.25, 528.25], "paddingInner": 0, "paddingOuter": 0}}, "y2": {"datum": "30 ans et plus"}}},
   {"mark": {"type": "rule", "color": "#a3a3a3", "strokeWidth": 1.3, "xOffset": 8, "yOffset": -15, "y2Offset": 6}, "encoding": {"x": {"datum": 0, "type": "quantitative", "scale": {"domain": [0, 100], "range": [808, 994], "nice": false, "zero": false}}, "y": {"datum": "18-29 ans", "type": "nominal", "scale": {"type": "band", "domain": ["18-29 ans", "30 ans et plus"], "range": [483.25, 528.25], "paddingInner": 0, "paddingOuter": 0}}, "y2": {"datum": "30 ans et plus"}}},
   {"mark": {"type": "rule", "color": "#a3a3a3", "strokeWidth": 1.3, "xOffset": -5, "x2Offset": 8, "yOffset": -7, "y2Offset": -15}, "encoding": {"x": {"datum": 0, "type": "quantitative", "scale": {"domain": [0, 100], "range": [808, 994], "nice": false, "zero": false}}, "x2": {"datum": 0}, "y": {"datum": "18-29 ans", "type": "nominal", "scale": {"type": "band", "domain": ["18-29 ans", "30 ans et plus"], "range": [483.25, 528.25], "paddingInner": 0, "paddingOuter": 0}}, "y2": {"datum": "18-29 ans"}}},
   {"mark": {"type": "rule", "color": "#a3a3a3", "strokeWidth": 1.3, "xOffset": -5, "x2Offset": 8, "yOffset": 14, "y2Offset": 6}, "encoding": {"x": {"datum": 0, "type": "quantitative", "scale": {"domain": [0, 100], "range": [808, 994], "nice": false, "zero": false}}, "x2": {"datum": 0}, "y": {"datum": "30 ans et plus", "type": "nominal", "scale": {"type": "band", "domain": ["18-29 ans", "30 ans et plus"], "range": [483.25, 528.25], "paddingInner": 0, "paddingOuter": 0}}, "y2": {"datum": "30 ans et plus"}}}
  ]},
  {"mark": {"type": "tick", "thickness": 3.5, "size": 13.5, "xOffset": 1.75, "yOffset": -1.5, "opacity": 1}, "encoding": {"x": {"field": "v", "type": "quantitative", "stack": "zero", "scale": {"domain": [0, 100], "range": [808, 994], "nice": false, "zero": false}}, "y": {"field": "sub", "type": "nominal", "scale": {"type": "band", "domain": ["18-29 ans", "30 ans et plus"], "range": [483.25, 528.25], "paddingInner": 0, "paddingOuter": 0}}, "order": {"field": "cat", "sort": "descending"}, "detail": {"field": "cat"}, "color": {"condition": {"test": "datum.cat==='Tout à fait'", "value": "#138A3C"}, "value": "#6CA33C"}}},
  {"mark": {"type": "bar", "height": 3, "xOffset": 1.5, "x2Offset": 1.5, "yOffset": -8.25, "y2Offset": -8.25, "opacity": 1}, "encoding": {"x": {"field": "v", "type": "quantitative", "stack": "zero", "scale": {"domain": [0, 100], "range": [808, 994], "nice": false, "zero": false}}, "y": {"field": "sub", "type": "nominal", "scale": {"type": "band", "domain": ["18-29 ans", "30 ans et plus"], "range": [483.25, 528.25], "paddingInner": 0, "paddingOuter": 0}}, "order": {"field": "cat", "sort": "descending"}, "detail": {"field": "cat"}, "color": {"condition": {"test": "datum.cat==='Tout à fait'", "value": "#138A3C"}, "value": "#78B345"}}},
  {"mark": {"type": "bar", "height": 13.5, "opacity": 1}, "encoding": {"x": {"field": "v", "type": "quantitative", "stack": "zero", "scale": {"domain": [0, 100], "range": [808, 994], "nice": false, "zero": false}}, "y": {"field": "sub", "type": "nominal", "scale": {"type": "band", "domain": ["18-29 ans", "30 ans et plus"], "range": [483.25, 528.25], "paddingInner": 0, "paddingOuter": 0}}, "order": {"field": "cat", "sort": "descending"}, "detail": {"field": "cat"}, "color": {"condition": {"test": "datum.cat==='Tout à fait'", "value": "#2EA84F"}, "value": "#9DC95C"}}},
  {"mark": {"type": "text", "fontSize": 11.5, "fontWeight": "bold", "font": "Liberation Sans", "baseline": "middle", "dy": 0.5}, "encoding": {"x": {"field": "v", "type": "quantitative", "stack": "zero", "bandPosition": 0.5, "scale": {"domain": [0, 100], "range": [808, 994], "nice": false, "zero": false}}, "y": {"field": "sub", "type": "nominal", "scale": {"type": "band", "domain": ["18-29 ans", "30 ans et plus"], "range": [483.25, 528.25], "paddingInner": 0, "paddingOuter": 0}}, "order": {"field": "cat", "sort": "descending"}, "detail": {"field": "cat"}, "text": {"field": "v"}, "color": {"condition": {"test": "datum.cat==='Tout à fait'", "value": "#ffffff"}, "value": "#111111"}}},
  {"transform": [{"filter": "datum.cat==='Tout à fait'"}], "mark": {"type": "text", "fontSize": 11.5, "fontWeight": "bold", "font": "Liberation Sans", "align": "right", "baseline": "middle", "xOffset": -17, "yOffset": 3.5, "color": "#111"}, "encoding": {"x": {"datum": 0, "type": "quantitative", "scale": {"domain": [0, 100], "range": [808, 994], "nice": false, "zero": false}}, "y": {"field": "sub", "type": "nominal", "scale": {"type": "band", "domain": ["18-29 ans", "30 ans et plus"], "range": [483.25, 528.25], "paddingInner": 0, "paddingOuter": 0}}, "text": {"field": "sub"}}}
 ]
}
]
}
